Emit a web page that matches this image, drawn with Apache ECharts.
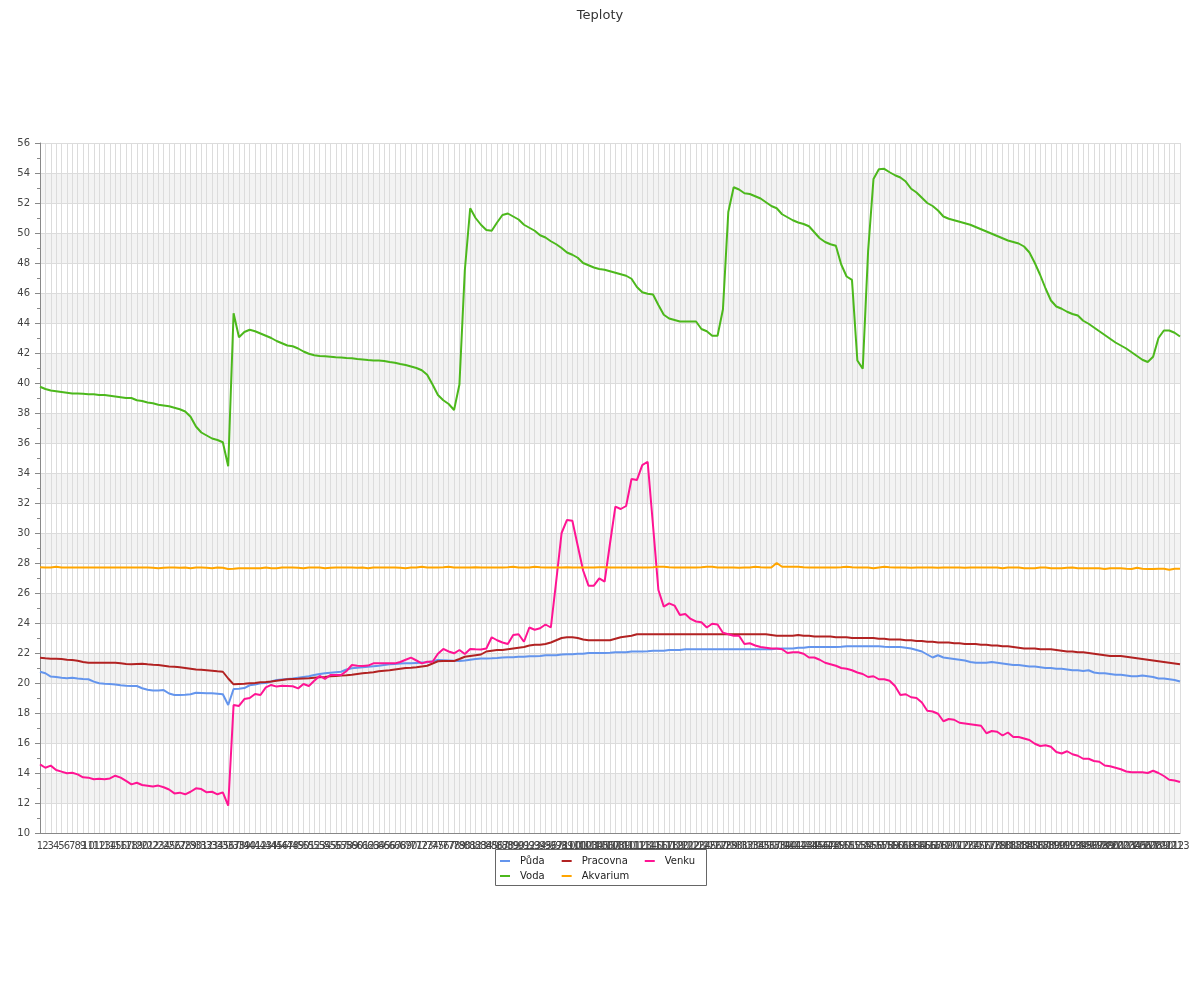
<!DOCTYPE html>
<html>
<head>
<meta charset="utf-8">
<script src="https://cdn.jsdelivr.net/npm/echarts@6/dist/echarts.min.js"></script>
<style>html,body{margin:0;padding:0;background:#fff}#c{width:1200px;height:1000px}</style>
</head>
<body>
<div id="c"></div>
<script>
const categories = Array.from({length: 213}, (_, i) => String(i + 1));

const puda = [
20.75,20.65,20.43,20.4,20.35,20.31,20.35,20.3,20.27,20.25,
20.09,19.98,19.95,19.93,19.9,19.85,19.82,19.8,19.8,19.65,
19.55,19.5,19.5,19.53,19.3,19.2,19.2,19.22,19.25,19.35,
19.33,19.31,19.31,19.28,19.25,18.53,19.6,19.62,19.66,19.85,
19.9,19.98,20.0,20.1,20.2,20.24,20.27,20.3,20.35,20.4,
20.45,20.53,20.6,20.65,20.69,20.72,20.75,20.9,20.98,21.02,
21.05,21.09,21.12,21.15,21.2,21.25,21.27,21.3,21.31,21.32,
21.34,21.36,21.38,21.45,21.53,21.52,21.5,21.48,21.47,21.5,
21.55,21.6,21.64,21.64,21.65,21.67,21.7,21.72,21.72,21.75,
21.75,21.78,21.78,21.8,21.85,21.85,21.85,21.9,21.92,21.92,
21.95,21.95,22.0,22.0,22.0,22.0,22.02,22.05,22.05,22.05,
22.1,22.1,22.1,22.12,22.15,22.15,22.15,22.2,22.2,22.2,
22.25,22.25,22.25,22.25,22.25,22.25,22.25,22.25,22.25,22.25,
22.25,22.25,22.25,22.25,22.25,22.25,22.25,22.28,22.3,22.3,
22.3,22.35,22.35,22.4,22.4,22.4,22.4,22.4,22.4,22.42,
22.45,22.45,22.45,22.45,22.45,22.45,22.45,22.42,22.4,22.4,
22.4,22.35,22.3,22.2,22.1,21.9,21.7,21.85,21.7,21.65,
21.6,21.55,21.5,21.4,21.35,21.35,21.35,21.4,21.35,21.3,
21.25,21.2,21.2,21.15,21.1,21.1,21.05,21.0,21.0,20.95,
20.95,20.9,20.85,20.85,20.8,20.85,20.7,20.65,20.65,20.6,
20.55,20.55,20.5,20.45,20.45,20.5,20.45,20.4,20.3,20.3,
20.25,20.2,20.1
];

const pracovna = [
21.69,21.65,21.62,21.62,21.6,21.55,21.53,21.48,21.4,21.35,
21.35,21.35,21.35,21.35,21.35,21.32,21.27,21.25,21.27,21.29,
21.25,21.22,21.2,21.15,21.1,21.08,21.05,21.0,20.95,20.9,
20.88,20.85,20.82,20.78,20.75,20.3,19.91,19.93,19.95,19.98,
20.0,20.05,20.07,20.1,20.15,20.2,20.25,20.27,20.28,20.3,
20.32,20.35,20.38,20.4,20.45,20.47,20.5,20.52,20.55,20.6,
20.65,20.68,20.72,20.78,20.82,20.85,20.9,20.95,21.0,21.02,
21.05,21.1,21.15,21.3,21.45,21.47,21.47,21.47,21.6,21.75,
21.8,21.85,21.9,22.1,22.15,22.2,22.2,22.25,22.3,22.35,
22.4,22.5,22.55,22.55,22.6,22.7,22.85,23.0,23.05,23.05,
23.0,22.9,22.85,22.85,22.85,22.85,22.85,22.95,23.05,23.1,
23.15,23.25,23.25,23.25,23.25,23.25,23.25,23.25,23.25,23.25,
23.25,23.25,23.25,23.25,23.25,23.25,23.25,23.25,23.25,23.25,
23.25,23.25,23.25,23.25,23.25,23.25,23.2,23.15,23.15,23.15,
23.15,23.2,23.15,23.15,23.1,23.1,23.1,23.1,23.05,23.05,
23.05,23.0,23.0,23.0,23.0,23.0,22.95,22.95,22.9,22.9,
22.9,22.85,22.85,22.8,22.8,22.75,22.75,22.7,22.7,22.7,
22.65,22.65,22.6,22.6,22.6,22.55,22.55,22.5,22.5,22.45,
22.45,22.4,22.35,22.3,22.3,22.3,22.25,22.25,22.25,22.2,
22.15,22.1,22.1,22.05,22.05,22.0,21.95,21.9,21.85,21.8,
21.8,21.8,21.75,21.7,21.65,21.6,21.55,21.5,21.45,21.4,
21.35,21.3,21.25
];

const venku = [
14.58,14.35,14.49,14.2,14.09,13.98,14.02,13.91,13.71,13.69,
13.58,13.62,13.58,13.64,13.82,13.69,13.47,13.24,13.35,13.2,
13.15,13.1,13.16,13.05,12.9,12.64,12.69,12.58,12.75,12.98,
12.93,12.71,12.75,12.58,12.71,11.82,18.53,18.47,18.93,19.0,
19.27,19.2,19.71,19.87,19.76,19.82,19.8,19.78,19.64,19.93,
19.8,20.15,20.47,20.27,20.53,20.53,20.53,20.8,21.2,21.15,
21.13,21.16,21.31,21.31,21.31,21.31,21.31,21.4,21.55,21.69,
21.5,21.31,21.42,21.42,21.95,22.27,22.1,21.98,22.2,21.93,
22.27,22.25,22.24,22.3,23.05,22.85,22.7,22.6,23.2,23.25,
22.75,23.7,23.55,23.65,23.9,23.7,26.8,30.0,30.87,30.82,
29.15,27.5,26.49,26.49,26.98,26.76,29.3,31.76,31.6,31.8,
33.6,33.53,34.53,34.75,30.5,26.2,25.09,25.31,25.16,24.53,
24.6,24.27,24.1,24.05,23.7,23.95,23.9,23.35,23.25,23.15,
23.15,22.6,22.65,22.5,22.4,22.35,22.3,22.3,22.25,22.0,
22.05,22.05,21.95,21.7,21.7,21.55,21.35,21.25,21.15,21.0,
20.95,20.85,20.7,20.6,20.4,20.45,20.25,20.25,20.15,19.8,
19.2,19.25,19.05,19.0,18.7,18.15,18.1,17.95,17.45,17.6,
17.55,17.35,17.3,17.25,17.2,17.15,16.65,16.8,16.75,16.5,
16.7,16.4,16.4,16.3,16.2,15.95,15.8,15.85,15.75,15.4,
15.3,15.45,15.25,15.15,14.95,14.95,14.8,14.75,14.5,14.45,
14.35,14.25,14.1,14.05,14.05,14.05,14.0,14.15,14.0,13.8,
13.55,13.5,13.4
];

const voda = [
39.75,39.6,39.5,39.45,39.4,39.35,39.3,39.3,39.28,39.25,
39.25,39.2,39.2,39.15,39.1,39.05,39.0,39.0,38.85,38.8,
38.7,38.65,38.55,38.5,38.45,38.35,38.25,38.1,37.75,37.1,
36.7,36.5,36.3,36.2,36.05,34.45,44.65,43.05,43.4,43.55,
43.45,43.3,43.15,43.0,42.8,42.65,42.5,42.45,42.3,42.1,
41.95,41.85,41.8,41.78,41.75,41.72,41.7,41.67,41.65,41.6,
41.57,41.53,41.5,41.5,41.47,41.4,41.35,41.27,41.2,41.1,
41.0,40.85,40.55,39.9,39.2,38.85,38.6,38.2,39.9,47.5,
51.65,51.0,50.55,50.2,50.15,50.7,51.2,51.3,51.1,50.9,
50.55,50.35,50.15,49.85,49.7,49.45,49.25,49.0,48.7,48.55,
48.35,48.0,47.85,47.7,47.6,47.55,47.45,47.35,47.25,47.15,
46.95,46.4,46.05,45.95,45.9,45.2,44.55,44.3,44.2,44.1,
44.1,44.1,44.1,43.6,43.45,43.15,43.15,44.9,51.4,53.05,
52.9,52.65,52.6,52.45,52.3,52.05,51.8,51.65,51.25,51.05,
50.85,50.7,50.6,50.45,50.05,49.65,49.4,49.25,49.15,47.9,
47.1,46.87,41.5,40.95,48.8,53.6,54.25,54.28,54.05,53.85,
53.7,53.43,52.95,52.7,52.35,52.0,51.8,51.5,51.1,50.95,
50.85,50.75,50.65,50.55,50.4,50.25,50.1,49.95,49.8,49.65,
49.5,49.4,49.3,49.1,48.7,48.0,47.2,46.3,45.5,45.1,
44.95,44.75,44.6,44.5,44.15,43.95,43.7,43.45,43.2,42.95,
42.7,42.5,42.3,42.05,41.8,41.55,41.4,41.75,43.0,43.5,
43.5,43.35,43.1
];

const akvarium = [
27.72,27.7,27.7,27.75,27.7,27.7,27.7,27.7,27.7,27.7,
27.7,27.7,27.7,27.7,27.7,27.7,27.7,27.7,27.7,27.7,
27.7,27.68,27.65,27.68,27.7,27.7,27.68,27.7,27.65,27.7,
27.7,27.68,27.65,27.7,27.68,27.6,27.62,27.65,27.65,27.65,
27.65,27.65,27.7,27.65,27.65,27.7,27.7,27.7,27.68,27.65,
27.7,27.7,27.7,27.65,27.68,27.7,27.7,27.7,27.7,27.68,
27.7,27.65,27.7,27.7,27.7,27.7,27.7,27.68,27.65,27.7,
27.7,27.75,27.7,27.7,27.7,27.72,27.75,27.7,27.7,27.7,
27.7,27.72,27.7,27.7,27.7,27.7,27.7,27.72,27.75,27.7,
27.7,27.7,27.75,27.72,27.7,27.7,27.7,27.7,27.72,27.7,
27.7,27.7,27.7,27.7,27.72,27.72,27.7,27.7,27.7,27.7,
27.7,27.7,27.7,27.7,27.72,27.75,27.75,27.72,27.7,27.7,
27.7,27.7,27.7,27.72,27.75,27.75,27.7,27.7,27.7,27.7,
27.68,27.7,27.7,27.75,27.72,27.7,27.7,28.0,27.75,27.75,
27.75,27.75,27.72,27.7,27.7,27.7,27.7,27.7,27.7,27.72,
27.75,27.72,27.7,27.7,27.7,27.65,27.7,27.75,27.72,27.7,
27.7,27.7,27.68,27.7,27.7,27.7,27.7,27.68,27.7,27.7,
27.7,27.7,27.68,27.7,27.7,27.7,27.7,27.7,27.7,27.65,
27.7,27.7,27.7,27.65,27.65,27.65,27.7,27.7,27.65,27.65,
27.65,27.68,27.7,27.65,27.65,27.65,27.65,27.65,27.6,27.65,
27.65,27.65,27.62,27.6,27.68,27.62,27.6,27.6,27.62,27.62,
27.55,27.62,27.62
];

const FONT = 'DejaVu Sans';
const chart = echarts.init(document.getElementById('c'), null, {renderer: 'canvas'});

function line(name, data, color) {
  return {
    name, type: 'line', data, showSymbol: false, symbol: 'none',
    lineStyle: {width: 2, color}, itemStyle: {color}, animation: false
  };
}

const legendText = {fontFamily: FONT, fontSize: 10, color: '#222', padding: [0, 0, 0, 5]};

chart.setOption({
  animation: false,
  backgroundColor: '#fff',
  title: {
    text: 'Teploty', left: 'center', top: 4,
    textStyle: {fontFamily: FONT, fontSize: 13, fontWeight: 'normal', color: '#333'}
  },
  legend: [
    {
      data: ['Půda', 'Pracovna', 'Venku'], left: 500, top: 856, padding: 0,
      itemGap: 17, itemWidth: 10, itemHeight: 2, icon: 'rect', textStyle: legendText
    },
    {
      data: ['Voda', 'Akvarium'], left: 500, top: 871, padding: 0,
      itemGap: 17, itemWidth: 10, itemHeight: 2, icon: 'rect', textStyle: legendText
    }
  ],
  graphic: [{
    type: 'rect', shape: {x: 495.5, y: 849.5, width: 211, height: 36},
    style: {fill: null, stroke: '#666', lineWidth: 1}, silent: true
  }],
  grid: {left: 40, right: 20, top: 143, bottom: 167, containLabel: false},
  xAxis: {
    type: 'category', data: categories, boundaryGap: false,
    axisLine: {show: true, lineStyle: {color: '#888'}},
    axisTick: {show: false},
    axisLabel: {interval: 0, fontFamily: FONT, fontSize: 10, color: '#444', margin: 8, hideOverlap: false},
    splitLine: {show: true, interval: 0, lineStyle: {color: '#dcdcdc', width: 1}}
  },
  yAxis: {
    type: 'value', min: 10, max: 56, interval: 2,
    axisLine: {show: true, lineStyle: {color: '#888'}},
    axisTick: {show: true, length: 5, lineStyle: {color: '#888'}},
    minorTick: {show: true, splitNumber: 2, length: 3, lineStyle: {color: '#888'}},
    axisLabel: {fontFamily: FONT, fontSize: 10, color: '#444', margin: 10},
    splitLine: {show: true, lineStyle: {color: '#dcdcdc', width: 1}},
    splitArea: {show: true, areaStyle: {color: ['rgba(255,255,255,1)', '#f3f3f3']}}
  },
  series: [
    line('Půda', puda, '#6495ED'),
    line('Pracovna', pracovna, '#B22222'),
    line('Venku', venku, '#FF1493'),
    line('Voda', voda, '#4CB81C'),
    line('Akvarium', akvarium, '#FFA500')
  ]
});
</script>
</body>
</html>
